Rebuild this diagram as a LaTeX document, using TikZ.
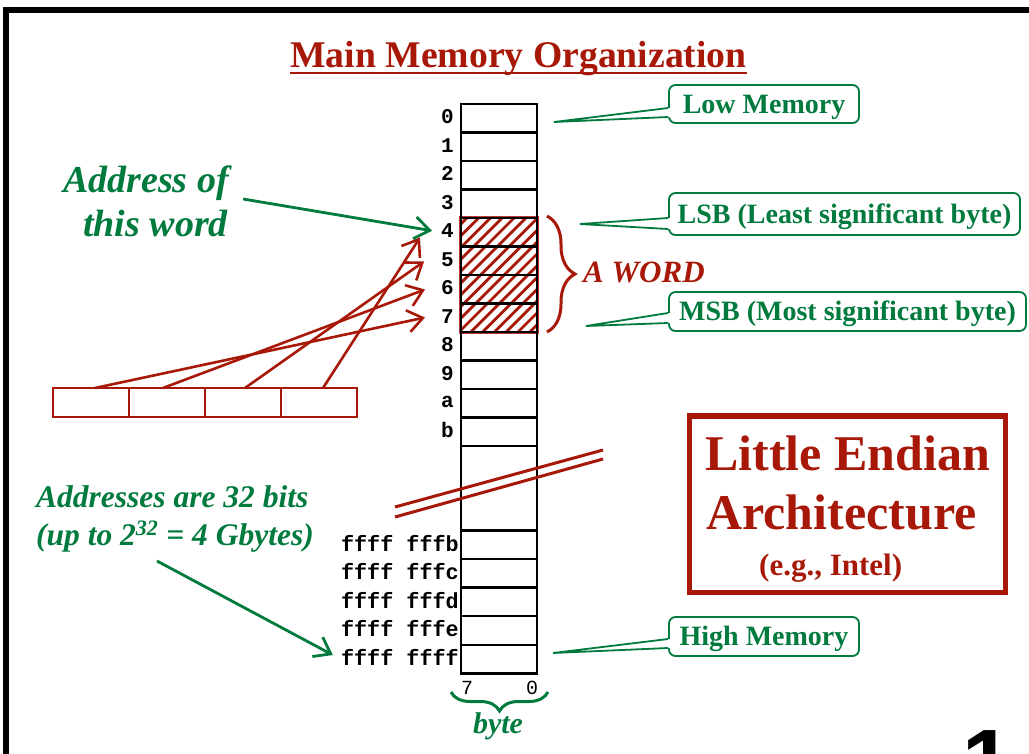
\documentclass[tikz,border=0pt]{standalone}
\usepackage{fontspec}
\setmainfont{Liberation Serif}
\setmonofont{Liberation Mono}
\newfontfamily\pagenumfont{Liberation Sans}
\usetikzlibrary{arrows.meta,decorations.pathreplacing}
\definecolor{memred}{RGB}{168,24,8}
\definecolor{memgreen}{RGB}{0,122,61}
\newcommand{\fsz}[1]{\fontsize{#1}{#1}\selectfont}
% tail of a speech-bubble label: opens the left border and draws the two sides
\newcommand{\callouttail}[4]{%
  \fill[white] ([shift={(2pt,#2)}]#1.west) -- (#4) -- ([shift={(2pt,#3)}]#1.west) -- cycle;
  \draw[memgreen, line width=1.8pt, line join=miter] ([yshift=#2]#1.west) -- (#4) -- ([yshift=#3]#1.west);}
\begin{document}
\begin{tikzpicture}[x=1pt, y=-1pt,
  cell/.style={draw=black, line width=2.4pt, minimum width=76pt, minimum height=28.5pt,
    inner sep=0pt, outer sep=0pt, anchor=north west},
  regcell/.style={draw=memred, line width=2pt, minimum width=76pt, minimum height=29pt,
    inner sep=0pt, outer sep=0pt, anchor=north west},
  addr/.style={font=\ttfamily\bfseries\fsz{21}, inner sep=0pt, anchor=east},
  faddr/.style={font=\ttfamily\bfseries\fsz{21.8}, inner sep=0pt, anchor=east},
  hatch/.style={draw=memred, line width=2.8pt},
  callout/.style={draw=memgreen, line width=1.8pt, rounded corners=6.5pt, fill=white,
    text=memgreen, font=\bfseries\fsz{28}, inner sep=0pt, text height=18pt, text depth=0pt},
  note/.style={text=memgreen, font=\bfseries\itshape, inner sep=0pt, anchor=base west},
  bigred/.style={text=memred, font=\bfseries, inner sep=0pt, anchor=base west},
  garrow/.style={draw=memgreen, line width=2.8pt, -{Straight Barb[length=15pt,width=22pt]}},
  rarrow/.style={draw=memred, line width=2.6pt, -{Straight Barb[length=15pt,width=22pt]}},
  redbrace/.style={draw=memred, line width=3pt, decorate, decoration={brace, amplitude=28pt}},
  greenbrace/.style={draw=memgreen, line width=3pt, decorate, decoration={brace, amplitude=19pt}}]

\useasboundingbox (0,0) rectangle (1029,753);
\clip (0,0) rectangle (1029,753);

% slide frame
\draw[line width=6pt] (6,10) rectangle (1100,800);

% title
\node[text=memred, font=\bfseries\fsz{37.7}, inner sep=0pt, anchor=base] (title) at (518.5,67) {Main Memory Organization};
\draw[memred, line width=2.5pt] ([yshift=-6pt]title.base west) -- ([yshift=-6pt]title.base east);

% hatched word (bytes 4..7)
\begin{scope}
  \clip (461,218) rectangle (537,332);
  \foreach \k in {0,...,17} \draw[hatch] ({341+11.8*\k},332) -- ++(120,-120);
\end{scope}
\draw[memred!85, line width=1.8pt] (459.5,216.5) rectangle (538.5,333.5);

% memory column, low addresses
\foreach \lbl [count=\i from 0] in {0,1,2,3,4,5,6,7,8,9,a,b} {
  \node[cell] (m\i) at (461,{104+28.5*\i}) {};
  \node[addr] (lab\i) at ([xshift=-7pt,yshift=1.5pt]m\i.west) {\lbl};
}
\node[cell, minimum height=84.5pt] (mgap) at (461,446) {};
% memory column, high addresses
\foreach \lbl [count=\i from 0] in {b,c,d,e,f} {
  \node[cell, minimum height=28.56pt] (f\i) at (461,{530.5+28.56*\i}) {};
  \node[faddr] (fl\i) at ([xshift=-2pt,yshift=1.5pt]f\i.west) {ffff fff\lbl};
}

% break marks across the column
\draw[memred, line width=3pt] (395,507) -- (603,450);
\draw[memred, line width=3pt] (395,517) -- (603,459);

% bit numbering and byte brace
\node[font=\ttfamily\fsz{20}, inner sep=0pt] (b7) at (467,687.5) {7};
\node[font=\ttfamily\fsz{20}, inner sep=0pt] (b0) at (532,687.5) {0};
\draw[greenbrace] (548,692) -- (451,692);
\node[text=memgreen, font=\bfseries\itshape\fsz{30}, inner sep=0pt, anchor=base] (bytelbl) at (498,733) {byte};

% word brace
\draw[redbrace] (547,216) -- (547,332);
\node[bigred, font=\bfseries\itshape\fsz{31}] (aword) at (583,282) {A WORD};

% register holding the word
\foreach \i in {1,...,4} \node[regcell] (r\i) at ({53+76*(\i-1)},388) {};
\draw[rarrow] ([xshift=4pt]r1.north) -- ([shift={(-16pt,-1.25pt)}]lab7.west);
\draw[rarrow] ([xshift=-4pt]r2.north) -- ([shift={(-16pt,-1.75pt)}]lab6.west);
\draw[rarrow] ([xshift=2pt]r3.north) -- ([shift={(-17pt,-2.25pt)}]lab5.west);
\draw[rarrow] ([xshift=4pt]r4.north) -- ([shift={(-21pt,-6.75pt)}]lab4.west);

% address of the word
\node[note, font=\bfseries\itshape\fsz{38}] (aw1) at (63,192) {Address of};
\node[note, font=\bfseries\itshape\fsz{38}] (aw2) at (83,236) {this word};
\draw[garrow] ([shift={(14pt,-7pt)}]aw1.base east) -- ([xshift=-9pt]lab4.west);

% address width
\node[note, font=\bfseries\itshape\fsz{31.5}] (ad1) at (36,507) {Addresses are 32 bits};
\node[note, font=\bfseries\itshape\fsz{31.5}] (ad2) at (36,545) {(up to 2\textsuperscript{32} = 4 Gbytes)};
\draw[garrow] ([shift={(121pt,-16pt)}]ad2.base west) -- ([shift={(-8pt,2.5pt)}]fl4.west);

% speech-bubble labels
\node[callout, minimum width=190pt, minimum height=38pt] (low) at (764,104) {Low Memory};
\node[callout, minimum width=351pt, minimum height=42pt] (lsb) at (844.5,214) {LSB (Least significant byte)};
\node[callout, minimum width=357pt, minimum height=39pt] (msb) at (847.5,311.5) {MSB (Most significant byte)};
\node[callout, minimum width=190pt, minimum height=39pt] (high) at (764,636.5) {High Memory};
\coordinate (lowtip) at (554,122);
\coordinate (lsbtip) at (580,224);
\coordinate (msbtip) at (586,326);
\coordinate (hightip) at (553,653);
\callouttail{low}{-4pt}{-13pt}{lowtip}
\callouttail{lsb}{-4pt}{-15pt}{lsbtip}
\callouttail{msb}{-1.5pt}{-11.5pt}{msbtip}
\callouttail{high}{-2.5pt}{-11.5pt}{hightip}

% architecture box
\node[draw=memred, line width=4pt, minimum width=317pt, minimum height=178pt, inner sep=0pt] (le) at (847.5,504) {};
\draw[memred, line width=1.6pt] ([shift={(4.5pt,-5pt)}]le.north west) rectangle ([shift={(-4pt,4pt)}]le.south east);
\node[bigred, font=\bfseries\fsz{50}] (le1) at (705,470) {Little Endian};
\node[bigred, font=\bfseries\fsz{50}] (le2) at (706,529) {Architecture};
\node[bigred, font=\bfseries\fsz{31}] (le3) at (759,575) {(e.g., Intel)};

% page number
\node[anchor=north west, inner sep=0pt, font=\pagenumfont\bfseries\fsz{90}] (pg) at (962,730) {1};
\end{tikzpicture}
\end{document}
